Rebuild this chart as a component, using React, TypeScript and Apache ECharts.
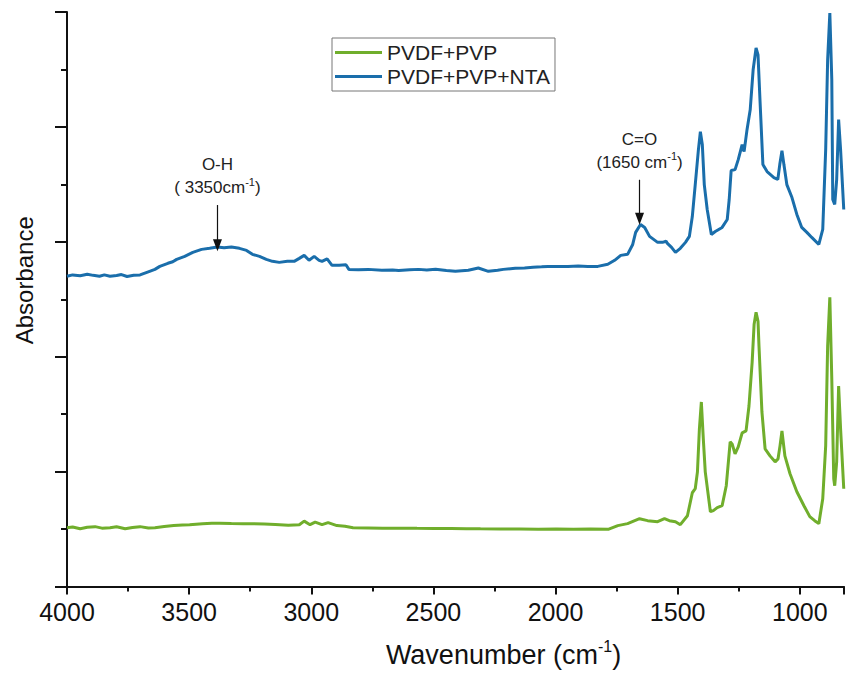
import { useEffect, useRef } from "react";
import * as echarts from "echarts";

const FONT = "'Liberation Sans', Arial, Helvetica, sans-serif";

const seriesNames = ["PVDF+PVP", "PVDF+PVP+NTA"];
const seriesColors = ["#70ae2c", "#1a6eab"];

// PVDF+PVP+NTA (blue)
const blueWavenumber = [
  4000, 3977, 3946, 3917, 3893, 3867, 3847, 3824, 3797, 3777, 3754, 3727, 3701, 3673, 3640, 3620, 3587, 3567, 3551,
  3518, 3485, 3449, 3416, 3384, 3357, 3327, 3294, 3265, 3241, 3212, 3184, 3159, 3131, 3098, 3070, 3049, 3029, 3009,
  2988, 2968, 2956, 2935, 2915, 2886, 2858, 2846, 2807, 2767, 2711, 2667, 2642, 2597, 2560, 2527, 2491, 2447, 2410,
  2357, 2316, 2275, 2237, 2214, 2165, 2127, 2092, 2057, 2031, 1987, 1949, 1907, 1868, 1827, 1786, 1758, 1733, 1705,
  1684, 1672, 1652, 1635, 1615, 1582, 1562, 1547, 1542, 1525, 1509, 1489, 1468, 1452, 1440, 1428, 1415, 1407, 1399,
  1391, 1379, 1362, 1346, 1318, 1297, 1289, 1281, 1265, 1252, 1236, 1228, 1216, 1203, 1191, 1179, 1171, 1163, 1151,
  1134, 1106, 1090, 1082, 1073, 1065, 1053, 1032, 1012, 992, 971, 951, 922, 906, 894, 886, 877, 869, 865, 857, 849,
  841, 833, 820,
];
const blueAbsorbance = [
  2.7, 2.712, 2.705, 2.718, 2.708, 2.7, 2.712, 2.7, 2.706, 2.715, 2.698, 2.708, 2.712, 2.734, 2.76, 2.786, 2.813, 2.826,
  2.847, 2.873, 2.908, 2.934, 2.943, 2.955, 2.948, 2.955, 2.943, 2.925, 2.891, 2.873, 2.847, 2.83, 2.821, 2.83, 2.83,
  2.856, 2.882, 2.839, 2.873, 2.839, 2.83, 2.852, 2.795, 2.795, 2.8, 2.76, 2.757, 2.76, 2.752, 2.755, 2.75, 2.757, 2.76,
  2.755, 2.762, 2.75, 2.743, 2.752, 2.772, 2.743, 2.752, 2.76, 2.769, 2.772, 2.778, 2.782, 2.786, 2.784, 2.786, 2.789,
  2.786, 2.786, 2.804, 2.839, 2.882, 2.891, 2.977, 3.082, 3.151, 3.125, 3.047, 2.995, 2.995, 3.005, 2.986, 2.951, 2.908,
  2.943, 2.995, 3.047, 3.22, 3.498, 3.802, 3.958, 3.845, 3.498, 3.281, 3.064, 3.09, 3.125, 3.194, 3.368, 3.62, 3.628,
  3.715, 3.845, 3.785, 3.976, 4.149, 4.497, 4.688, 4.627, 4.236, 3.672, 3.611, 3.559, 3.542, 3.672, 3.793, 3.672, 3.498,
  3.385, 3.238, 3.125, 3.082, 3.038, 2.977, 3.108, 3.802, 4.583, 4.99, 4.41, 3.368, 3.325, 3.542, 4.063, 3.802, 3.281,
];

// PVDF+PVP (green)
const greenWavenumber = [
  4000, 3977, 3946, 3917, 3885, 3857, 3824, 3797, 3762, 3732, 3701, 3667, 3640, 3602, 3563, 3527, 3498, 3445, 3407,
  3375, 3327, 3278, 3237, 3192, 3147, 3094, 3049, 3029, 3005, 2984, 2956, 2931, 2895, 2862, 2829, 2767, 2707, 2642,
  2567, 2497, 2427, 2365, 2307, 2227, 2147, 2071, 1997, 1927, 1857, 1782, 1745, 1705, 1656, 1623, 1582, 1554, 1534,
  1509, 1489, 1460, 1440, 1428, 1419, 1411, 1403, 1395, 1387, 1366, 1354, 1338, 1318, 1301, 1285, 1277, 1265, 1252,
  1236, 1220, 1208, 1195, 1187, 1179, 1171, 1167, 1155, 1142, 1122, 1101, 1089, 1081, 1073, 1061, 1040, 1012, 983, 959,
  939, 922, 906, 894, 886, 877, 869, 861, 857, 849, 841, 833, 820,
];
const greenAbsorbance = [
  0.512, 0.518, 0.503, 0.515, 0.521, 0.508, 0.512, 0.52, 0.503, 0.514, 0.521, 0.51, 0.512, 0.522, 0.53, 0.535, 0.538,
  0.547, 0.55, 0.551, 0.549, 0.547, 0.546, 0.543, 0.54, 0.534, 0.538, 0.569, 0.538, 0.56, 0.538, 0.556, 0.53, 0.525,
  0.512, 0.51, 0.508, 0.508, 0.506, 0.505, 0.504, 0.503, 0.502, 0.501, 0.5, 0.499, 0.5, 0.499, 0.5, 0.499, 0.53, 0.547,
  0.59, 0.573, 0.564, 0.59, 0.573, 0.564, 0.538, 0.616, 0.816, 0.851, 0.998, 1.372, 1.606, 1.285, 0.998, 0.651, 0.66,
  0.686, 0.703, 0.877, 1.259, 1.241, 1.155, 1.215, 1.337, 1.354, 1.571, 1.953, 2.283, 2.387, 2.309, 2.092, 1.519, 1.198,
  1.137, 1.085, 1.111, 1.224, 1.354, 1.137, 0.981, 0.825, 0.703, 0.608, 0.573, 0.547, 0.764, 1.224, 2.092, 2.517, 1.806,
  0.938, 0.877, 1.085, 1.745, 1.372, 0.851,
];

const annotationTitles = ["O-H", "C=O"];
const annotationDetails = ["( 3350cm", "(1650 cm"];
const annotationWavenumbers = [3384, 1656];
const annotationArrowTop = [3.32, 3.54];
const annotationArrowTip = [2.97, 3.2];

function pairs(xs: number[], ys: number[]) {
  return xs.map((x, i) => [x, ys[i]]);
}

export default function App() {
  const ref = useRef<HTMLDivElement>(null);
  useEffect(() => {
    if (!ref.current) return;
    const chart = echarts.init(ref.current, null, { renderer: "svg" });
    const markData = annotationTitles.map((t, i) => [
      { name: t, coord: [annotationWavenumbers[i], annotationArrowTop[i]] },
      { coord: [annotationWavenumbers[i], annotationArrowTip[i]] },
    ]);
    chart.setOption({
      animation: false,
      backgroundColor: "#ffffff",
      textStyle: { fontFamily: FONT },
      grid: { left: 67, right: 0, top: 12, bottom: 85, containLabel: false },
      legend: {
        orient: "vertical",
        left: 332,
        top: 38,
        padding: [4, 5, 4, 3],
        itemGap: 3,
        itemWidth: 47,
        itemHeight: 3,
        icon: "rect",
        borderColor: "#777",
        borderWidth: 1,
        textStyle: { fontSize: 21, color: "#222", fontFamily: FONT },
        data: seriesNames,
      },
      xAxis: {
        type: "value",
        inverse: true,
        min: 819,
        max: 4000,
        splitNumber: 6,
        axisLine: { onZero: false, lineStyle: { color: "#111", width: 2 } },
        axisTick: { length: 8, lineStyle: { color: "#111", width: 2 } },
        minorTick: { show: true, splitNumber: 2, length: 5, lineStyle: { color: "#111", width: 2 } },
        splitLine: { show: false },
        axisLabel: {
          fontSize: 25,
          color: "#111",
          margin: 13,
          fontFamily: FONT,
          formatter: (v: number) => (v % 500 === 0 ? String(v) : ""),
        },
        name: "{a|Wavenumber (cm}{s|-1}{a|)}",
        nameLocation: "middle",
        nameGap: 52,
        nameTextStyle: {
          padding: [0, 0, 0, 96],
          rich: {
            a: { fontSize: 27, color: "#111", lineHeight: 32, fontFamily: FONT },
            s: { fontSize: 16, color: "#111", lineHeight: 16, verticalAlign: "top", fontFamily: FONT },
          },
        },
      },
      yAxis: {
        type: "value",
        min: 0,
        max: 5,
        interval: 1,
        axisLine: { show: true, onZero: false, lineStyle: { color: "#111", width: 2 } },
        axisTick: { show: true, length: 12, lineStyle: { color: "#111", width: 2 } },
        minorTick: { show: true, splitNumber: 2, length: 6, lineStyle: { color: "#111", width: 2 } },
        axisLabel: { show: false },
        splitLine: { show: false },
        name: "Absorbance",
        nameLocation: "middle",
        nameGap: 31,
        nameTextStyle: { fontSize: 24, color: "#111", padding: [0, 0, 0, 38], fontFamily: FONT },
      },
      series: [
        {
          name: seriesNames[0],
          type: "line",
          data: pairs(greenWavenumber, greenAbsorbance),
          showSymbol: false,
          symbol: "none",
          color: seriesColors[0],
          lineStyle: { width: 3, color: seriesColors[0] },
        },
        {
          name: seriesNames[1],
          type: "line",
          data: pairs(blueWavenumber, blueAbsorbance),
          showSymbol: false,
          symbol: "none",
          color: seriesColors[1],
          lineStyle: { width: 3, color: seriesColors[1] },
          markLine: {
            silent: true,
            symbol: ["none", "triangle"],
            symbolSize: [9, 12],
            lineStyle: { color: "#111", width: 1.2, type: "solid" },
            itemStyle: { color: "#111" },
            label: {
              show: true,
              position: "start",
              distance: 6,
              formatter: (p: any) => {
                const i = annotationTitles.indexOf(p.name);
                return `{a|${annotationTitles[i]}}\n{a|${annotationDetails[i]}}{s|-1}{a|)}`;
              },
              rich: {
                a: { fontSize: 17, color: "#222", lineHeight: 23, fontFamily: FONT },
                s: { fontSize: 11, color: "#222", lineHeight: 12, verticalAlign: "top", fontFamily: FONT },
              },
            },
            data: markData,
          },
        },
      ],
    });
    return () => chart.dispose();
  }, []);
  return (
    <div
      ref={ref}
      style={{ position: "fixed", left: 0, top: 0, width: 847, height: 673, background: "#fff" }}
    />
  );
}
